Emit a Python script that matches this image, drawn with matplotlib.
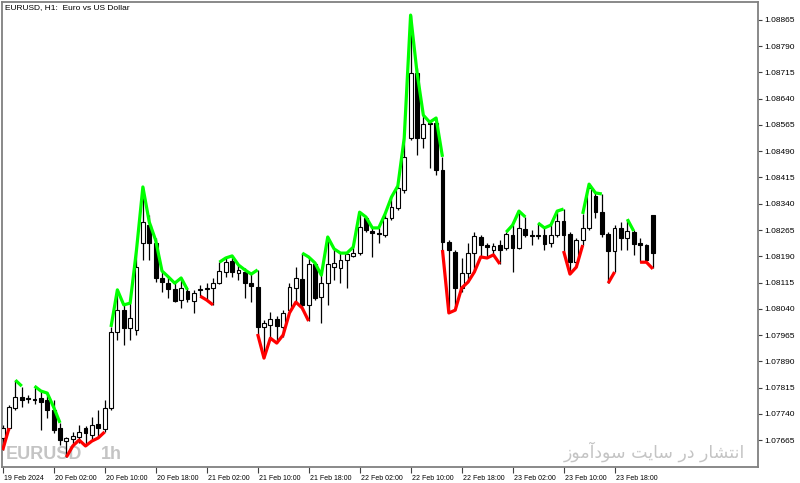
"""
EURUSD H1 candlestick chart with the green/red high-low indicator lines
plot.py
"""
import matplotlib
matplotlib.use("Agg")
import matplotlib.pyplot as plt
import matplotlib.transforms as mtransforms
from matplotlib.patches import Rectangle
import numpy as np

plt.rcParams['font.family'] = ['Liberation Sans', 'DejaVu Sans']

# hourly candles, 19 Feb 2024 18:00 -> 23 Feb 2024
opens = [1.07671, 1.07699, 1.07756, 1.07788, 1.07785, 1.07782, 1.07785, 1.07779, 1.07751, 1.07699,
         1.07662, 1.07668, 1.07674, 1.07699, 1.07679, 1.07711, 1.07696, 1.07756, 1.07974, 1.08036,
         1.07985, 1.07979, 1.08228, 1.08279, 1.08228, 1.08128, 1.08113, 1.08096, 1.08065, 1.08091,
         1.08062, 1.08096, 1.08096, 1.08099, 1.08113, 1.08145, 1.08176, 1.08142, 1.08145, 1.08113,
         1.08102, 1.07988, 1.07994, 1.08011, 1.07988, 1.08036, 1.08099, 1.08125, 1.08051, 1.08168,
         1.08074, 1.08113, 1.08159, 1.08156, 1.08179, 1.08191, 1.08199, 1.08299, 1.08262, 1.08256,
         1.08251, 1.08299, 1.08328, 1.08379, 1.08528, 1.08713, 1.08528, 1.08571, 1.08571, 1.08436,
         1.08231, 1.08202, 1.08099, 1.08142, 1.08199, 1.08245, 1.08222, 1.08208, 1.08222, 1.08213,
         1.08251, 1.08213, 1.08268, 1.08251, 1.08248, 1.08251, 1.08228, 1.08251, 1.08291, 1.08253,
         1.08173, 1.08236, 1.08271, 1.08362, 1.08316, 1.08253, 1.08205, 1.08271, 1.08242, 1.08259,
         1.08228, 1.08222, 1.08308]
highs = [1.07708, 1.07765, 1.07836, 1.07816, 1.07794, 1.07819, 1.07805, 1.07799, 1.07779, 1.07714,
         1.07674, 1.07688, 1.07708, 1.07705, 1.07731, 1.07751, 1.07779, 1.07988, 1.08094, 1.08051,
         1.08056, 1.08208, 1.08388, 1.08308, 1.08242, 1.08148, 1.08131, 1.08113, 1.08128, 1.08099,
         1.08094, 1.08108, 1.08113, 1.08128, 1.08173, 1.08188, 1.08191, 1.08165, 1.08156, 1.08142,
         1.08151, 1.08008, 1.08031, 1.08019, 1.08036, 1.08113, 1.08159, 1.08199, 1.08188, 1.08171,
         1.08136, 1.08245, 1.08211, 1.08199, 1.08199, 1.08216, 1.08316, 1.08302, 1.08271, 1.08271,
         1.08311, 1.08359, 1.08391, 1.08528, 1.08879, 1.08728, 1.08593, 1.08579, 1.08585, 1.08474,
         1.08236, 1.08208, 1.08185, 1.08228, 1.08259, 1.08251, 1.08228, 1.08228, 1.08236, 1.08259,
         1.08279, 1.08319, 1.08302, 1.08265, 1.08285, 1.08271, 1.08279, 1.08319, 1.08325, 1.08259,
         1.08242, 1.08311, 1.08396, 1.08371, 1.08368, 1.08259, 1.08279, 1.08288, 1.08296, 1.08265,
         1.08242, 1.08225, 1.08308]
lows = [1.07636, 1.07693, 1.07751, 1.07759, 1.07771, 1.07768, 1.07693, 1.07728, 1.07685, 1.07651,
        1.07616, 1.07648, 1.07656, 1.07648, 1.07662, 1.07671, 1.07688, 1.07751, 1.07951, 1.07936,
        1.07951, 1.07965, 1.08179, 1.08179, 1.08116, 1.08088, 1.08071, 1.08059, 1.08042, 1.08059,
        1.08028, 1.08076, 1.08065, 1.08051, 1.08111, 1.08131, 1.08131, 1.08122, 1.08071, 1.08059,
        1.07968, 1.07899, 1.07951, 1.07942, 1.07959, 1.08028, 1.08059, 1.08036, 1.08005, 1.08065,
        1.07999, 1.08051, 1.08122, 1.08113, 1.08099, 1.08188, 1.08194, 1.08259, 1.08188, 1.08228,
        1.08245, 1.08293, 1.08322, 1.08371, 1.08522, 1.08479, 1.08499, 1.08442, 1.08422, 1.08208,
        1.08028, 1.08036, 1.08088, 1.08116, 1.08145, 1.08188, 1.08185, 1.08194, 1.08168, 1.08208,
        1.08145, 1.08211, 1.08245, 1.08222, 1.08239, 1.08208, 1.08216, 1.08245, 1.08205, 1.08139,
        1.08159, 1.08222, 1.08265, 1.08299, 1.08245, 1.08113, 1.08145, 1.08208, 1.08208, 1.08194,
        1.08173, 1.08173, 1.08156]
closes = [1.07699, 1.07759, 1.07788, 1.07779, 1.07782, 1.07779, 1.07774, 1.07751, 1.07693, 1.07665,
          1.07671, 1.07676, 1.07688, 1.07685, 1.07708, 1.07699, 1.07756, 1.07974, 1.08036, 1.07985,
          1.08014, 1.08159, 1.08288, 1.08228, 1.08128, 1.08116, 1.08096, 1.08062, 1.08099, 1.08068,
          1.08085, 1.08094, 1.08099, 1.08113, 1.08148, 1.08173, 1.08145, 1.08151, 1.08113, 1.08105,
          1.07988, 1.07999, 1.08011, 1.07991, 1.08028, 1.08102, 1.08128, 1.08051, 1.08168, 1.08071,
          1.08113, 1.08168, 1.08171, 1.08179, 1.08196, 1.08199, 1.08274, 1.08265, 1.08256, 1.08253,
          1.08299, 1.08331, 1.08385, 1.08474, 1.08713, 1.08528, 1.08568, 1.08568, 1.08436, 1.08231,
          1.08208, 1.08099, 1.08142, 1.08199, 1.08248, 1.08222, 1.08216, 1.08219, 1.08208, 1.08253,
          1.08213, 1.08271, 1.08251, 1.08248, 1.08251, 1.08225, 1.08251, 1.08291, 1.08251, 1.08173,
          1.08236, 1.08271, 1.08385, 1.08316, 1.08253, 1.08205, 1.08271, 1.08242, 1.08262, 1.08225,
          1.08222, 1.08179, 1.08199]

# indicator segments: (first candle index, values)
green_segments = [
    (2, [1.07836, 1.07819]),
    (5, [1.07819, 1.07805, 1.07799, 1.07759, 1.07714]),
    (17, [1.07988, 1.08094, 1.08051, 1.08056, 1.08208, 1.08388, 1.08288, 1.08236, 1.08148,
          1.08131, 1.08113, 1.08128, 1.08094]),
    (34, [1.08173, 1.08185, 1.08191, 1.08165, 1.08151, 1.08139, 1.08151]),
    (47, [1.08199, 1.08188, 1.08171, 1.08136, 1.08245, 1.08211, 1.08199, 1.08199, 1.08216,
          1.08316, 1.08302, 1.08271, 1.08271, 1.08311, 1.08359, 1.08391, 1.08528, 1.08879,
          1.08716, 1.08593, 1.08573, 1.08585, 1.08474]),
    (79, [1.08259, 1.08279, 1.08319, 1.08302]),
    (84, [1.08285, 1.08271, 1.08279, 1.08319, 1.08325]),
    (91, [1.08311, 1.08396, 1.08371, 1.08368]),
    (98, [1.08296, 1.08262]),
]
red_segments = [
    (0, [1.07636, 1.07699]),
    (10, [1.07616, 1.07648, 1.07665, 1.07648, 1.07662, 1.07671, 1.07688]),
    (31, [1.08076, 1.08065, 1.08051]),
    (40, [1.07968, 1.07899, 1.07956, 1.07942, 1.07965, 1.08028, 1.08059, 1.08042, 1.08005]),
    (69, [1.08208, 1.08028, 1.08036, 1.08099, 1.08116, 1.08145, 1.08188, 1.08185, 1.08194,
          1.08168]),
    (88, [1.08205, 1.08139, 1.08159, 1.08222]),
    (95, [1.08113, 1.08145]),
    (100, [1.08173, 1.08173, 1.08154]),
]

price_ticks = [1.07665, 1.07740, 1.07815, 1.07890, 1.07965, 1.08040, 1.08115, 1.08190, 1.08265,
               1.08340, 1.08415, 1.08490, 1.08565, 1.08640, 1.08715, 1.08790, 1.08865]
time_labels = ["19 Feb 2024", "20 Feb 02:00", "20 Feb 10:00", "20 Feb 18:00", "21 Feb 02:00",
               "21 Feb 10:00", "21 Feb 18:00", "22 Feb 02:00", "22 Feb 10:00", "22 Feb 18:00",
               "23 Feb 02:00", "23 Feb 10:00", "23 Feb 18:00"]
hours_per_label = 8

W, H = 800, 483
fig = plt.figure(figsize=(W / 100, H / 100), dpi=100)
ax = fig.add_axes([2 / W, 16 / H, 756 / W, 465 / H])
ax.set_xlim(-0.1, 118.5)
ax.set_ylim(1.075879, 1.089164)

# candles
body_w = 0.6
for i in range(len(opens)):
    o, h, l, c = opens[i], highs[i], lows[i], closes[i]
    ax.plot([i, i], [l, h], color="black", lw=0.9, zorder=2, solid_capstyle="butt")
    bull = c >= o
    ax.add_patch(Rectangle((i - body_w / 2, min(o, c)), body_w, max(abs(c - o), 0.000008),
                           facecolor="white" if bull else "black", edgecolor="black",
                           lw=0.8, zorder=3))

def draw_segments(segs, color):
    for start, vals in segs:
        xs = np.arange(start, start + len(vals))
        ax.plot(xs, vals, color=color, lw=2.3, zorder=4, solid_joinstyle="round",
                solid_capstyle="butt")

draw_segments(green_segments, "#00ff00")
draw_segments(red_segments, "#ff0000")

# axes look
for s in ax.spines.values():
    s.set_color("#808080")
    s.set_linewidth(1.3)
ax.yaxis.tick_right()
ax.set_yticks(price_ticks)
ax.set_yticklabels(["%.5f" % p for p in price_ticks])
ax.tick_params(axis="y", direction="out", length=3, width=0.8, color="#404040",
               labelsize=6, pad=1.5)
ax.set_xticks(np.arange(len(time_labels)) * hours_per_label)
ax.set_xticklabels(time_labels)
ax.tick_params(axis="x", direction="out", length=4, width=0.8, color="#404040",
               labelsize=5, pad=2)
offset = mtransforms.ScaledTranslation(1.5 / 100, 0, fig.dpi_scale_trans)
for lab in ax.get_xticklabels():
    lab.set_horizontalalignment("left")
    lab.set_transform(lab.get_transform() + offset)

# texts
fig.text(5 / W, 1 - 4 / H, "EURUSD, H1:  Euro vs US Dollar", va="top", ha="left",
         fontsize=6, color="black")
ax.text(6 / W, 1 - 459 / H, "EURUSD", transform=fig.transFigure, fontsize=13,
        fontweight="bold", color="#c4c4c4", zorder=1, ha="left", va="baseline")
ax.text(101 / W, 1 - 459 / H, "1h", transform=fig.transFigure, fontsize=13,
        fontweight="bold", color="#c4c4c4", zorder=1, ha="left", va="baseline")
# Arabic watermark, pre-shaped presentation forms in visual order
arabic = ("\uFEAF\uFEEE\uFEE3\uFE81\uFEA9\uFEEE\uFEB3 \uFE96\uFEF3\uFE8E\uFEB3 "
          "\uFEAD\uFEA9 \uFEAD\uFE8E\uFEB8\uFE98\uFEE7\uFE8D")
ax.text(745 / W, 1 - 458 / H, arabic, transform=fig.transFigure, fontsize=12.5,
        color="#c4c4c4", zorder=1, ha="right", va="baseline", family=["DejaVu Sans"])

fig.savefig("out.png", dpi=100)
